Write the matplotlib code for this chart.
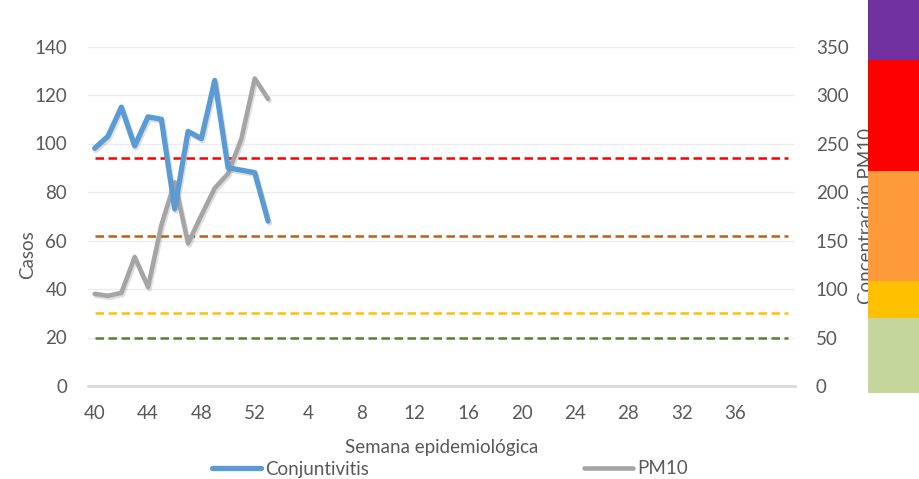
import numpy as np
import matplotlib
matplotlib.use("Agg")
import matplotlib.pyplot as plt
import matplotlib.patheffects as pe
from matplotlib.lines import Line2D
from matplotlib.patches import Rectangle

plt.rcParams['font.family'] = ['Lato', 'DejaVu Sans']

# semanas epidemiologicas (40..52 de un anio, 1..40 del siguiente)
semanas = list(range(40, 53)) + list(range(1, 41))
# casos de conjuntivitis (eje izquierdo)
casos = [98, 103, 115, 99, 111, 110, 73, 105, 102, 126, 90, 89, 88, 68]
# concentracion PM10 (eje derecho)
pm10 = [95, 93, 96, 133, 102, 166, 210, 147, 176, 204, 219, 255, 317, 296]
# umbrales PM10 (eje derecho)
umbrales = [235, 155, 75, 50]
colores_umbral = ['#FF0000', '#C55A11', '#FFC000', '#548235']
# franjas de color a la derecha (fraccion de altura, de abajo hacia arriba)
franjas = [0.0, 0.191, 0.285, 0.565, 0.847, 1.0]
colores_franja = ['#C4D69C', '#FFC000', '#FF9A3A', '#FF0000', '#7030A0']

gris_txt = '#595959'
fs = 13.5

fig = plt.figure(figsize=(9.19, 4.79), dpi=100)
ax = fig.add_axes([88 / 919, 1 - 386 / 479, 707 / 919, 339.5 / 479])
ax2 = ax.twinx()

x = np.arange(len(semanas))
xs = x[:len(casos)]

for v, c in zip(umbrales, colores_umbral):
    ax2.plot(x, [v] * len(x), color=c, lw=1.8, dashes=(3.4, 1.8), zorder=2)

sombra = [pe.SimpleLineShadow(offset=(1, -1.5), shadow_color='#7F7F7F',
                              alpha=0.25), pe.Normal()]
ax2.plot(xs, pm10, color='#A5A5A5', lw=3.3, solid_capstyle='round',
         solid_joinstyle='round', zorder=3, path_effects=sombra)
ax.plot(xs, casos, color='#5B9BD5', lw=3.8, solid_capstyle='round',
        solid_joinstyle='round', zorder=3, path_effects=sombra)

ax.set_zorder(ax2.get_zorder() + 1)
ax.patch.set_visible(False)

ax.set_xlim(-0.5, len(semanas) - 0.5)
ax.set_ylim(0, 140)
ax2.set_ylim(0, 350)
ax.set_yticks(np.arange(0, 141, 20))
ax2.set_yticks(np.arange(0, 351, 50))
ax.set_xticks(x[::4][:13])
ax.set_xticklabels([str(semanas[i]) for i in x[::4][:13]])

# cuadricula en el eje de abajo para que quede bajo las lineas punteadas
ax2.grid(axis='y', color='#EBEBEB', lw=1, zorder=0)
ax2.set_axisbelow(True)
for a in (ax, ax2):
    for s in a.spines.values():
        s.set_visible(False)
ax.spines['bottom'].set_visible(True)
ax.spines['bottom'].set_color('#D9D9D9')
ax.spines['bottom'].set_linewidth(2)

ax.tick_params(axis='both', length=0, labelsize=fs, colors=gris_txt)
ax.tick_params(axis='y', pad=15)
ax.tick_params(axis='x', pad=14)
ax2.tick_params(axis='y', length=0, labelsize=fs, colors=gris_txt, pad=15)

ax.set_xlabel('Semana epidemiológica', fontsize=fs, color=gris_txt)
ax.xaxis.set_label_coords(0.5, -0.155)
ax.set_ylabel('Casos', fontsize=fs, color=gris_txt)
ax.yaxis.set_label_coords(-0.073, 0.386)
fig.text(866 / 919, 1 - 216 / 479, 'Concentración PM10', rotation=90,
         ha='center', va='center', fontsize=fs, color=gris_txt, zorder=3)

# franjas de color (tapan parte del titulo del eje derecho)
axb = fig.add_axes([868 / 919, 1 - 392.7 / 479, 51 / 919, 392.7 / 479])
axb.set_zorder(10)
axb.set_xlim(0, 1)
axb.set_ylim(0, 1)
axb.axis('off')
for i, c in enumerate(colores_franja):
    axb.add_patch(Rectangle((0, franjas[i]), 1, franjas[i + 1] - franjas[i],
                            facecolor=c, edgecolor='none'))

handles = [Line2D([], [], color='#5B9BD5', lw=3.8, solid_capstyle='round'),
           Line2D([], [], color='#A5A5A5', lw=3.3, solid_capstyle='round')]
fig.legend(handles, ['Conjuntivitis', 'PM10'], loc='center',
           bbox_to_anchor=(450 / 919, 1 - 469 / 479), ncol=2, frameon=False,
           fontsize=fs, labelcolor=gris_txt, handlelength=2.6,
           handletextpad=0.2, columnspacing=11.5, borderpad=0)

fig.savefig('out.png', dpi=100)
